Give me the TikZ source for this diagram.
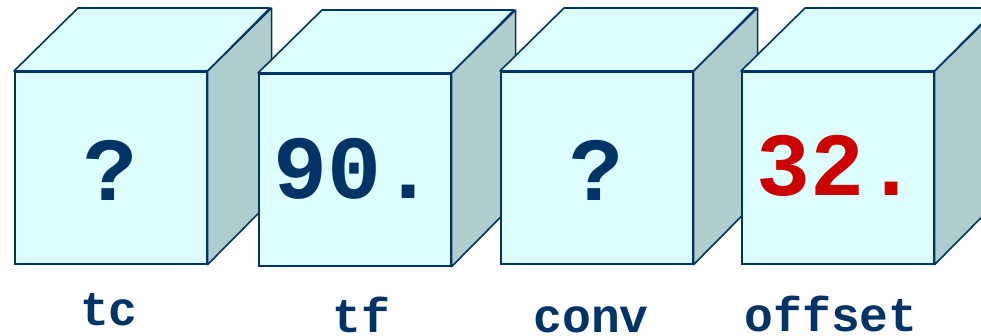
\documentclass[tikz,border=0pt]{standalone}
\usepackage{fontspec}
\newfontfamily\codefont{Liberation Mono}
\definecolor{edgeblue}{HTML}{003366}
\definecolor{facecyan}{HTML}{DDFFFF}
\definecolor{sidegrey}{HTML}{AECDCD}
\definecolor{valred}{HTML}{CC0000}
\tikzset{
  face/.style={rectangle, draw=edgeblue, fill=facecyan, line width=1.6pt,
    minimum width=192pt, minimum height=192pt, inner sep=0pt, anchor=north west},
  rim/.style={draw=edgeblue, line width=1.6pt, line join=round},
  valtext/.style={font=\codefont\bfseries\fontsize{90}{90}\selectfont,
    text=edgeblue, anchor=base, inner sep=0pt},
  lbl/.style={font=\codefont\bfseries\fontsize{48}{48}\selectfont,
    text=edgeblue, anchor=base, inner sep=0pt}
}
% one cube: front face node #1 with top-left corner at (#2,#3)
\newcommand\boxcube[3]{%
  \node[face] (#1) at (#2,#3) {};
  \filldraw[rim, fill=facecyan] (#1.north west) -- ++(64,-63) -- ++(192,0)
    -- (#1.north east) -- cycle;
  \filldraw[rim, fill=sidegrey] (#1.north east) -- ++(64,-63) -- ++(0,192)
    -- (#1.south east) -- cycle;
}
\begin{document}
\begin{tikzpicture}[x=1pt,y=-1pt]
\useasboundingbox (0,0) rectangle (981,335);
\clip (0,0) rectangle (981,335);

\boxcube{tc}{14}{71}
\node[valtext] (tcval) at ([yshift=-129pt]tc.north) {?};

\boxcube{tf}{258}{73}
\node[valtext] (tfval) at ([yshift=-125pt]tf.north) {90.};

\boxcube{conv}{500}{71}
\node[valtext] (convval) at ([yshift=-129pt]conv.north) {?};

\boxcube{offset}{741}{71}
\node[valtext, text=valred] (offsetval) at ([yshift=-124pt]offset.north) {32.};

\node[lbl] (tclab) at (109,325) {tc};
\node[lbl] (tflab) at (361,332) {tf};
\node[lbl] (convlab) at (591,332) {conv};
\node[lbl] (offsetlab) at (831,331) {offset};
\end{tikzpicture}
\end{document}
